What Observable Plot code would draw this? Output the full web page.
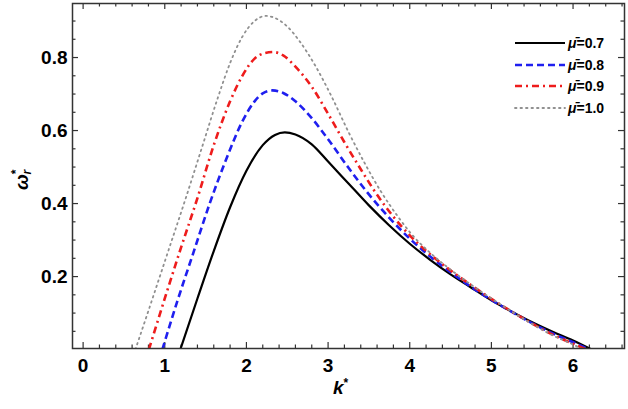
<!DOCTYPE html>
<html><head><meta charset="utf-8">
<script src="https://cdn.jsdelivr.net/npm/d3@7"></script>
<script src="https://cdn.jsdelivr.net/npm/@observablehq/plot@0.6"></script>
<style>
body{margin:0;background:#fff;}
#wrap{position:relative;width:628px;height:409px;font-family:"Liberation Sans",Arial,sans-serif;color:#000;}
#legend{position:absolute;left:514px;top:32px;}
.row{display:flex;align-items:center;height:21.7px;font-weight:bold;font-size:14px;}
.row svg{margin-right:2px}
.mu{font-style:italic}
#xlab{position:absolute;left:333px;top:376px;font-weight:bold;font-style:italic;font-size:19px;}
#xlab sup{font-size:12px;font-style:normal;vertical-align:7px;}
#ylab{position:absolute;left:9px;top:190px;font-weight:bold;font-size:19px;transform:rotate(-90deg);transform-origin:left top;white-space:nowrap;}
#ylab sup{font-size:12px;vertical-align:8px;}
#ylab sub{font-size:12px;font-style:italic;vertical-align:-3px;margin-left:-5px}
</style></head>
<body><div id="wrap"><div id="chart"></div>
<div id="legend"></div>
<div id="xlab">k<sup>*</sup></div>
<div id="ylab"><i>ω</i><sup>*</sup><sub>r</sub></div>
</div>
<script>
// Series data [k*, omega_r*]
const mu07 = [[1.19,0],[1.4,0.14],[1.6,0.27],[1.8,0.39],[2.0,0.49],[2.2,0.56],[2.35,0.588],[2.47,0.595],[2.6,0.589],[2.8,0.562],[3.0,0.515],[3.25,0.455],[3.5,0.395],[3.75,0.34],[4.0,0.29],[4.25,0.246],[4.5,0.206],[4.75,0.17],[5.0,0.135],[5.25,0.104],[5.5,0.075],[5.75,0.049],[6.0,0.025],[6.23,0]];
const mu08 = [[0.97,0],[1.15,0.13],[1.35,0.265],[1.55,0.4],[1.75,0.52],[1.95,0.625],[2.1,0.68],[2.2,0.702],[2.32,0.71],[2.45,0.703],[2.6,0.68],[2.8,0.634],[3.0,0.576],[3.25,0.498],[3.5,0.425],[3.75,0.361],[4.0,0.304],[4.25,0.255],[4.5,0.212],[4.75,0.172],[5.0,0.136],[5.25,0.103],[5.5,0.072],[5.75,0.044],[6.0,0.02],[6.2,0]];
const mu09 = [[0.805,0],[1.0,0.14],[1.2,0.28],[1.4,0.415],[1.6,0.56],[1.8,0.68],[1.95,0.75],[2.1,0.797],[2.22,0.812],[2.33,0.815],[2.45,0.806],[2.6,0.775],[2.8,0.72],[3.0,0.646],[3.2,0.568],[3.4,0.494],[3.6,0.424],[3.8,0.364],[4.0,0.313],[4.25,0.261],[4.5,0.217],[4.75,0.177],[5.0,0.139],[5.25,0.104],[5.5,0.071],[5.75,0.041],[6.0,0.016],[6.17,0]];
const mu10 = [[0.64,0],[0.85,0.14],[1.05,0.275],[1.25,0.41],[1.45,0.55],[1.65,0.69],[1.8,0.785],[1.95,0.857],[2.1,0.9],[2.24,0.914],[2.38,0.905],[2.5,0.885],[2.65,0.845],[2.85,0.775],[3.05,0.69],[3.25,0.596],[3.45,0.51],[3.65,0.432],[3.85,0.366],[4.0,0.322],[4.25,0.265],[4.5,0.219],[4.75,0.178],[5.0,0.14],[5.25,0.104],[5.5,0.07],[5.75,0.039],[6.0,0.014],[6.12,0]];
const seriesLabels = ["0.7","0.8","0.9","1.0"];
const seriesColors = ["#000000","#1f1fef","#ee1c1c","#909090"];
const seriesDash = [null,"7,4","7,4,2,4","1.5,4"];
const seriesWidth = [2.2,2.6,2.6,1.8];
const xTicks = [0,1,2,3,4,5,6];
const yTicks = [0.2,0.4,0.6,0.8];

const all = [mu07,mu08,mu09,mu10];
const W = 628, H = 409, mL = 72, mR = 4, mT = 3, mB = 61;
const fw = W-mL-mR, fh = H-mT-mB;
const xMinor = d3.range(0,6.61,0.2).filter(v=>Math.abs(v-Math.round(v))>1e-6);
const yMinor = d3.range(0.05,0.95,0.05).filter(v=>Math.abs(v*5-Math.round(v*5))>1e-6);
const tickStyle = {stroke:"#333", strokeWidth:1.2};
const marks = [];
marks.push(Plot.ruleX(xTicks,{insetTop:fh-6,...tickStyle}));
marks.push(Plot.ruleX(xMinor,{insetTop:fh-3.5,...tickStyle}));
marks.push(Plot.ruleX(xTicks,{insetBottom:fh-6,...tickStyle}));
marks.push(Plot.ruleX(xMinor,{insetBottom:fh-3.5,...tickStyle}));
marks.push(Plot.ruleY(yTicks,{insetRight:fw-6,...tickStyle}));
marks.push(Plot.ruleY(yMinor,{insetRight:fw-3.5,...tickStyle}));
marks.push(Plot.ruleY(yTicks,{insetLeft:fw-6,...tickStyle}));
marks.push(Plot.ruleY(yMinor,{insetLeft:fw-3.5,...tickStyle}));
all.forEach((s,i)=>{
  const data = s.map(([k,w])=>({k,w}));
  marks.push(Plot.line(data,{x:"k",y:"w",stroke:seriesColors[i],strokeWidth:seriesWidth[i],strokeDasharray:seriesDash[i],strokeLinecap:i==3?"round":"butt",curve:"monotone-x",clip:true}));
});
marks.push(Plot.frame({stroke:"#333",strokeWidth:1.5}));
marks.push(Plot.axisX({ticks:xTicks,tickSize:0,tickPadding:10,fontSize:19,fontWeight:"bold",label:null,tickFormat:d=>String(d)}));
marks.push(Plot.axisY({ticks:yTicks,tickSize:0,tickPadding:5,fontSize:19,fontWeight:"bold",label:null,tickFormat:d=>d.toFixed(1)}));

const chart = Plot.plot({
  width:W, height:H, marginLeft:mL, marginRight:mR, marginTop:mT, marginBottom:mB,
  x:{domain:[-0.13,6.63]}, y:{domain:[0.003,0.948]},
  style:{fontFamily:'"Liberation Sans",Arial,sans-serif',color:"#000",background:"#fff"},
  marks
});
document.getElementById("chart").appendChild(chart);

const leg = document.getElementById("legend");
seriesLabels.forEach((lab,i)=>{
  const row = document.createElement("div"); row.className="row";
  row.innerHTML = `<svg width="52" height="8"><line x1="1" y1="4" x2="51" y2="4" stroke="${seriesColors[i]}" stroke-width="${seriesWidth[i]}" ${seriesDash[i]?`stroke-dasharray="${seriesDash[i]}"`:""} ${i==3?'stroke-linecap="round"':''}/></svg><span><span class="mu">\u03BC\u0304</span>=${lab}</span>`;
  leg.appendChild(row);
});
</script></body></html>
